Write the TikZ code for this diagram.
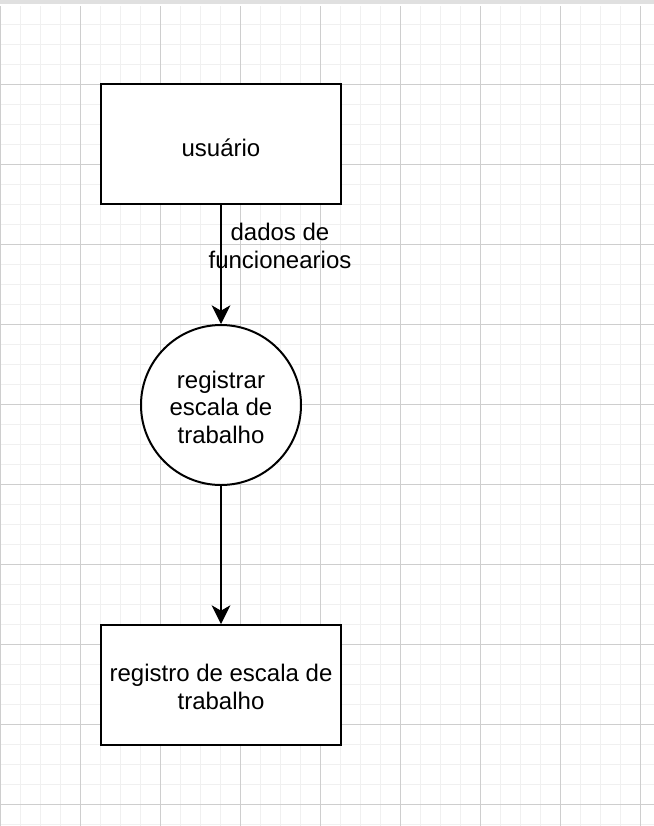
\documentclass[tikz,border=0pt]{standalone}
\usepackage{fontspec}
\setmainfont{Liberation Sans}
\usetikzlibrary{arrows.meta}
\definecolor{minorgrid}{HTML}{F0F0F0}
\definecolor{majorgrid}{HTML}{CECECE}
\definecolor{topband}{HTML}{E0E0E0}
\tikzset{
  px/.style={x=0.75pt,y=-0.75pt},
  txt/.style={align=center,inner sep=0pt,font=\fontsize{18pt}{20.6pt}\selectfont},
  box/.style={draw=black,line width=1.5pt,fill=white,minimum width=180pt,minimum height=90pt,inner sep=0pt},
  proc/.style={draw=black,line width=1.5pt,fill=white,circle,minimum size=120pt,inner sep=0pt},
  flow/.style={draw=black,line width=1.5pt,-{Stealth[length=14pt,width=14pt,inset=4pt]}},
}
\begin{document}
\begin{tikzpicture}[px]
\useasboundingbox (0,0) rectangle (654,826);
\fill[white] (0,0) rectangle (654,826);
% minor grid
\foreach \x in {20,40,60,100,120,140,180,200,220,260,280,300,340,360,380,420,440,460,500,520,540,580,600,620}
  \draw[minorgrid,line width=0.75pt] (\x+0.5,6) -- (\x+0.5,826);
\foreach \y in {24,44,64,104,124,144,184,204,224,264,284,304,344,364,384,424,444,464,504,524,544,584,604,624,664,684,704,744,764,784,824}
  \draw[minorgrid,line width=0.75pt] (0,\y+0.5) -- (654,\y+0.5);
% major grid
\foreach \x in {0,80,160,240,320,400,480,560,640}
  \draw[majorgrid,line width=0.75pt] (\x+0.5,6) -- (\x+0.5,826);
\foreach \y in {84,164,244,324,404,484,564,644,724,804}
  \draw[majorgrid,line width=0.75pt] (0,\y+0.5) -- (654,\y+0.5);
\fill[topband] (0,0) rectangle (654,4);
% nodes
\node[box,label={[txt,yshift=-2.6pt]center:usuário}] (usr) at (221,144) {};
\node[proc,label={[txt,yshift=-1.5pt]center:registrar\\escala de\\trabalho}] (reg) at (221,405) {};
\node[box,label={[txt,yshift=-1.5pt]center:registro de escala de\\trabalho}] (rec) at (221,685) {};
\node[txt] (dados) at (280,246) {dados de\\funcionearios};
% connectors
\draw[flow] (usr) -- (reg);
\draw[flow] (reg) -- (rec);
\end{tikzpicture}
\end{document}
